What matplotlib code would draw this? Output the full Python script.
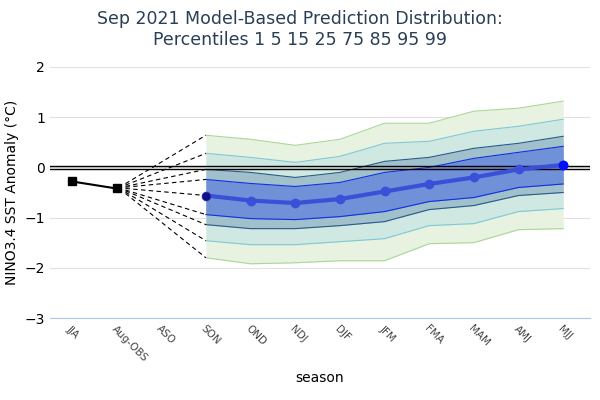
import matplotlib
matplotlib.use("Agg")
import matplotlib.pyplot as plt
import numpy as np

seasons = ["JJA", "Aug-OBS", "ASO", "SON", "OND", "NDJ", "DJF", "JFM", "FMA", "MAM", "AMJ", "MJJ"]
obs = [-0.28, -0.42]
p99 = [0.64, 0.56, 0.44, 0.56, 0.88, 0.88, 1.12, 1.18, 1.32]
p95 = [0.28, 0.20, 0.10, 0.22, 0.48, 0.52, 0.72, 0.82, 0.96]
p85 = [-0.04, -0.10, -0.20, -0.10, 0.12, 0.20, 0.38, 0.48, 0.62]
p75 = [-0.24, -0.32, -0.38, -0.30, -0.10, 0.00, 0.18, 0.30, 0.42]
med = [-0.56, -0.66, -0.71, -0.63, -0.48, -0.33, -0.20, -0.04, 0.05]
p25 = [-0.94, -1.02, -1.04, -0.98, -0.88, -0.68, -0.60, -0.40, -0.33]
p15 = [-1.14, -1.22, -1.22, -1.16, -1.08, -0.84, -0.76, -0.56, -0.50]
p5 = [-1.46, -1.54, -1.54, -1.48, -1.42, -1.16, -1.12, -0.88, -0.82]
p1 = [-1.80, -1.92, -1.90, -1.86, -1.86, -1.52, -1.50, -1.24, -1.22]

fig = plt.figure(figsize=(6, 4), dpi=100)
ax = fig.add_axes([50/600, 82/400, 540/600, 251/400])
x = np.arange(3, 12)

ax.fill_between(x, p1, p99, color="#e8f2e0", lw=0)
ax.fill_between(x, p5, p95, color="#cfe8e2", lw=0)
ax.fill_between(x, p15, p85, color="#a0c0cc", lw=0)
ax.fill_between(x, p25, p75, color="#7090d8", lw=0)
ax.plot(x, p99, color="#a8d898", lw=0.8)
ax.plot(x, p1, color="#a8d898", lw=0.8)
ax.plot(x, p95, color="#80c8d8", lw=0.8)
ax.plot(x, p5, color="#80c8d8", lw=0.8)
ax.plot(x, p85, color="#2a5a8a", lw=0.8)
ax.plot(x, p15, color="#2a5a8a", lw=0.8)
ax.plot(x, p75, color="#1030e0", lw=0.8)
ax.plot(x, p25, color="#1030e0", lw=0.8)

ax.axhline(0.03, color="black", lw=1)
ax.axhline(-0.03, color="black", lw=1)

for arr in [p99, p95, p85, p75, med, p25, p15, p5, p1]:
    y0 = obs[1] + (arr[0] - med[0]) * 0.08
    ax.plot([1.2, 3], [y0, arr[0]], ls=(0, (4, 3)), color="black", lw=0.8)

ax.plot(x, med, color="#3a50d8", lw=3, marker="o", ms=6)
ax.plot([3], [med[0]], marker="o", color="#101080", ms=5)
ax.plot([11], [med[-1]], marker="o", color="#0010ff", ms=6)
ax.plot([0, 1], obs, color="black", lw=1.5, marker="s", ms=6)

ax.set_xlim(-0.49, 11.6)
ax.set_ylim(-3, 2)
ax.set_yticks([-3, -2, -1, 0, 1, 2])
ax.set_yticklabels(["\u22123", "\u22122", "\u22121", "0", "1", "2"])
ax.set_xticks(range(12))
ax.set_xticklabels(seasons, rotation=-45, ha="left", rotation_mode="anchor", color="#444444")
ax.tick_params(length=0, labelsize=10)
ax.tick_params(axis="x", labelsize=7.5, pad=4)
ax.grid(axis="y", color="#e0e0e0", lw=0.8)
ax.set_axisbelow(True)
for s in ["top", "right", "left"]:
    ax.spines[s].set_visible(False)
ax.spines["bottom"].set_color("#aac8e8")
ax.set_ylabel("NINO3.4 SST Anomaly (\u00b0C)", fontsize=10)
ax.set_xlabel("season", fontsize=10)
ax.xaxis.set_label_coords(0.5, -0.21)
fig.suptitle("Sep 2021 Model-Based Prediction Distribution:\nPercentiles 1 5 15 25 75 85 95 99",
             y=0.975, fontsize=12.5, color="#2a3f55")
fig.savefig("out.png", dpi=100)
